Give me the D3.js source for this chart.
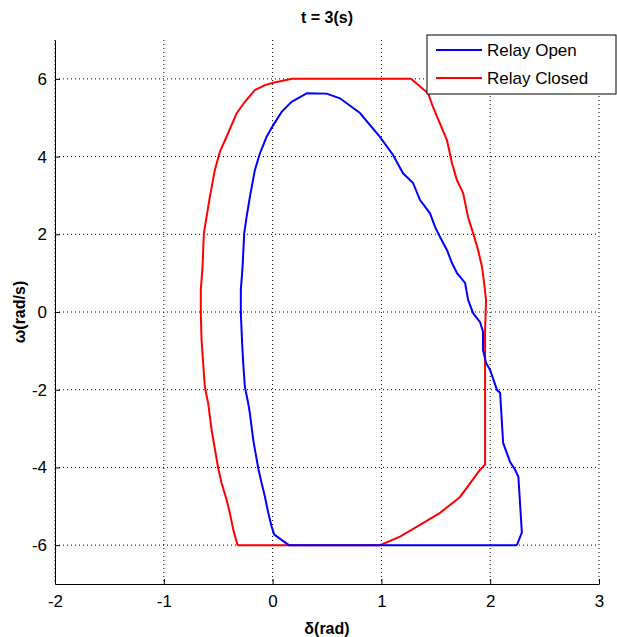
<!DOCTYPE html>
<html lang="en">
<head>
    <meta charset="UTF-8">
    <title>Phase Plane</title>
    <script src="https://d3js.org/d3.v7.min.js"></script>
    <style>
        body { margin: 0; background: #fff; }
        text { font-family: "Liberation Sans", Arial, sans-serif; }
        .grid line { stroke: #000; stroke-dasharray: 1,3; stroke-width: 1; }
        .axis path, .axis line { stroke: #000; }
        .axis text { font-size: 17px; fill: #000; }
        .lbl { font-weight: bold; font-size: 16px; }
    </style>
</head>
<body>
    <svg width="617" height="637"></svg>
    <script>
        // delta (rad), omega (rad/s)
        var openDelta = [2.245, 2.291, 2.259, 2.229, 2.183, 2.119, 2.091, 2.063, 1.999, 1.962, 1.934, 1.934, 1.907, 1.843, 1.797, 1.769, 1.695, 1.649, 1.603, 1.539, 1.493, 1.447, 1.355, 1.291, 1.199, 1.107, 0.988, 0.803, 0.619, 0.497, 0.316, 0.175, 0.083, 0.006, -0.055, -0.117, -0.163, -0.209, -0.239, -0.261, -0.276, -0.292, -0.292, -0.280, -0.270, -0.255, -0.224, -0.209, -0.178, -0.132, -0.101, -0.071, -0.040, -0.009, 0.015, 0.150, 2.245];
        var openOmega = [-6.00, -5.68, -4.24, -4.06, -3.86, -3.37, -2.08, -2.01, -1.49, -1.31, -0.98, -0.51, -0.26, -0.03, 0.31, 0.75, 1.00, 1.26, 1.59, 1.93, 2.19, 2.54, 2.88, 3.32, 3.57, 4.04, 4.50, 5.12, 5.50, 5.62, 5.63, 5.41, 5.15, 4.81, 4.51, 4.08, 3.65, 2.96, 2.45, 2.02, 1.16, 0.57, -0.03, -0.80, -1.32, -1.92, -2.35, -2.60, -3.29, -4.02, -4.40, -4.75, -5.17, -5.52, -5.73, -6.00, -6.00];
        var closedDelta = [-0.322, 0.987, 1.171, 1.355, 1.539, 1.723, 1.907, 1.953, 1.953, 1.962, 1.944, 1.925, 1.889, 1.843, 1.797, 1.751, 1.695, 1.649, 1.603, 1.475, 1.429, 1.272, 0.178, 0.006, -0.071, -0.163, -0.255, -0.331, -0.423, -0.485, -0.531, -0.577, -0.607, -0.632, -0.644, -0.660, -0.660, -0.653, -0.638, -0.623, -0.592, -0.561, -0.500, -0.469, -0.423, -0.393, -0.362, -0.322];
        var closedOmega = [-6.00, -6.00, -5.78, -5.48, -5.17, -4.76, -4.06, -3.93, -0.46, 0.31, 0.75, 1.16, 1.59, 2.03, 2.44, 3.06, 3.39, 3.83, 4.42, 5.27, 5.63, 6.00, 6.00, 5.90, 5.84, 5.71, 5.41, 5.11, 4.51, 4.12, 3.65, 2.96, 2.45, 2.02, 1.16, 0.57, -0.03, -0.72, -1.32, -1.92, -2.35, -3.03, -4.02, -4.40, -4.83, -5.17, -5.60, -6.00];
        var xTicks = [-2, -1, 0, 1, 2, 3];
        var yTicks = [-6, -4, -2, 0, 2, 4, 6];
        var seriesNames = ["Relay Open", "Relay Closed"];
        var seriesColors = ["#0000ff", "#ff0000"];

        var svg = d3.select("svg"),
            margin = {top: 40, right: 18, bottom: 53, left: 55},
            width = +svg.attr("width") - margin.left - margin.right,
            height = +svg.attr("height") - margin.top - margin.bottom;

        var x = d3.scaleLinear().domain([-2, 3]).range([0, width]),
            y = d3.scaleLinear().domain([-7, 7]).range([height, 0]);

        var g = svg.append("g")
            .attr("transform", "translate(" + margin.left + "," + margin.top + ")");

        // dotted grid
        g.append("g").attr("class", "grid")
            .selectAll("line").data(xTicks).enter().append("line")
            .attr("x1", function (d) { return x(d); })
            .attr("x2", function (d) { return x(d); })
            .attr("y1", 0).attr("y2", height);
        g.append("g").attr("class", "grid")
            .selectAll("line").data(yTicks).enter().append("line")
            .attr("y1", function (d) { return y(d); })
            .attr("y2", function (d) { return y(d); })
            .attr("x1", 0).attr("x2", width);

        var fmt = function (d) { return String(d); };

        g.append("g")
            .attr("class", "axis")
            .attr("transform", "translate(0," + height + ")")
            .call(d3.axisBottom(x).tickValues(xTicks).tickFormat(fmt).tickSizeInner(-5).tickSizeOuter(0).tickPadding(11))
            .selectAll("text").attr("dy", "0.71em");

        g.append("g")
            .attr("class", "axis")
            .call(d3.axisLeft(y).tickValues(yTicks).tickFormat(fmt).tickSizeInner(-5).tickSizeOuter(0).tickPadding(8));

        var line = d3.line()
            .x(function (d) { return x(d[0]); })
            .y(function (d) { return y(d[1]); });

        var openPts = d3.zip(openDelta, openOmega),
            closedPts = d3.zip(closedDelta, closedOmega);

        g.append("path").datum(closedPts)
            .attr("d", line).attr("fill", "none")
            .attr("stroke", seriesColors[1]).attr("stroke-width", 2);
        g.append("path").datum(openPts)
            .attr("d", line).attr("fill", "none")
            .attr("stroke", seriesColors[0]).attr("stroke-width", 2);

        // labels
        svg.append("text").attr("class", "lbl")
            .attr("x", margin.left + width / 2).attr("y", 23)
            .attr("text-anchor", "middle").text("t = 3(s)");
        svg.append("text").attr("class", "lbl")
            .attr("x", margin.left + width / 2).attr("y", 634)
            .attr("text-anchor", "middle").text("δ(rad)");
        svg.append("text").attr("class", "lbl")
            .attr("transform", "translate(25," + (margin.top + height / 2) + ") rotate(-90)")
            .attr("text-anchor", "middle").text("ω(rad/s)");

        // legend
        var lg = svg.append("g").attr("transform", "translate(427,35)");
        lg.append("rect").attr("width", 189).attr("height", 59)
            .attr("fill", "#fff").attr("stroke", "#000");
        seriesNames.forEach(function (name, i) {
            var ly = 15 + i * 28;
            lg.append("line").attr("x1", 9).attr("x2", 55)
                .attr("y1", ly).attr("y2", ly)
                .attr("stroke", seriesColors[i]).attr("stroke-width", 2);
            lg.append("text").attr("x", 60).attr("y", ly + 6)
                .style("font-size", "17px").text(name);
        });
    </script>
</body>
</html>
